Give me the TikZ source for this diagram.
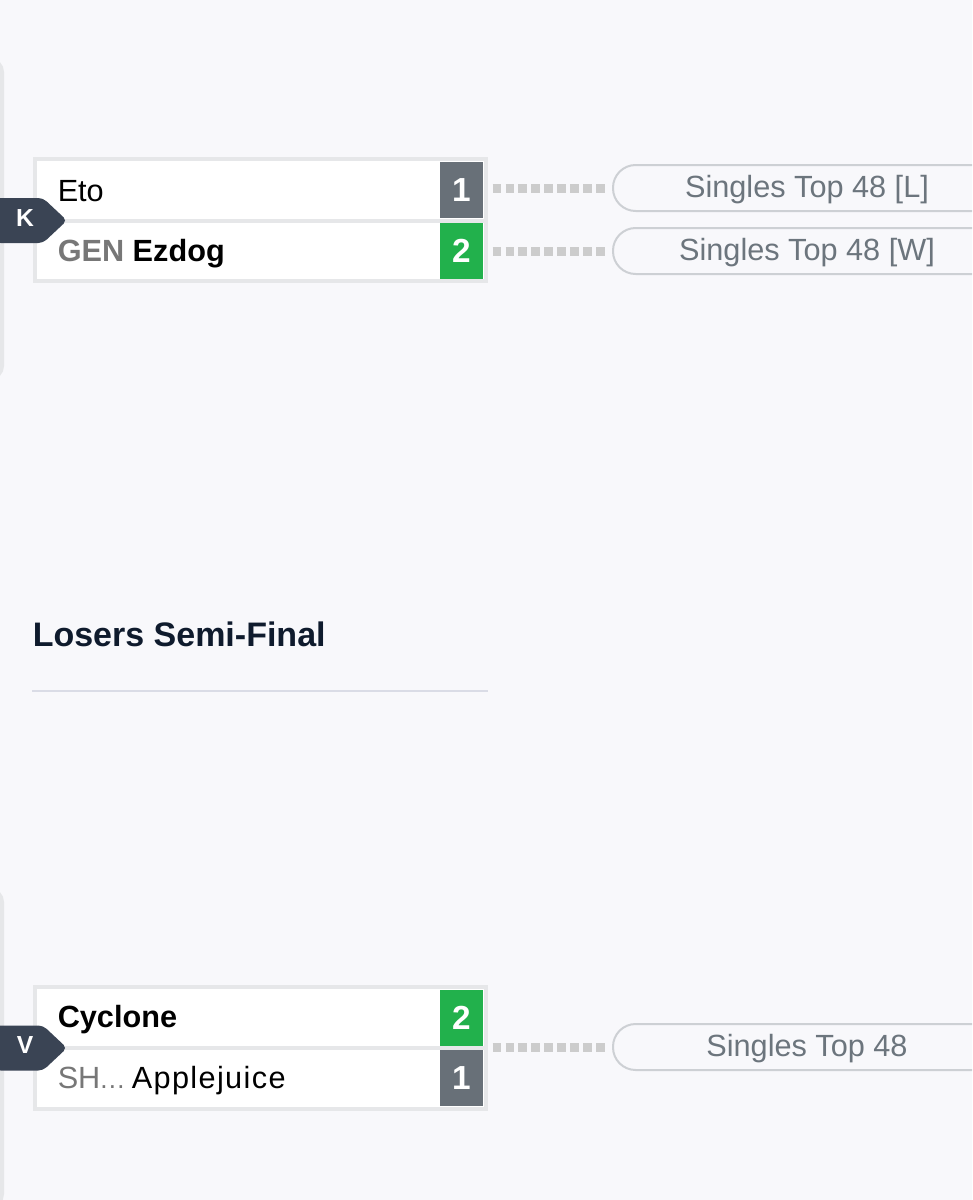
\documentclass[tikz,border=0pt]{standalone}
\usepackage{fontspec}
\setmainfont{Liberation Sans}
\definecolor{pagebg}{HTML}{F8F8FB}
\definecolor{frame}{HTML}{E6E7E9}
\definecolor{win}{HTML}{22B14C}
\definecolor{lose}{HTML}{687078}
\definecolor{badge}{HTML}{3A4454}
\definecolor{dots}{HTML}{CCCCCC}
\definecolor{pillline}{HTML}{CDD0D4}
\definecolor{pilltext}{HTML}{6C757D}
\definecolor{prefix}{HTML}{777777}
\definecolor{title}{HTML}{0F1B2D}
\definecolor{rulec}{HTML}{DADCE6}
\tikzset{
  matchbox/.style={draw=frame,line width=3pt,fill=white,minimum width=338.25pt,minimum height=91.5pt,inner sep=0pt},
  rowline/.style={draw=frame,line width=3pt},
  score/.style={minimum width=32.25pt,minimum height=42pt,inner sep=0pt,text=white,font=\fontsize{25}{25}\selectfont\bfseries},
  scorelight/.style={score},
  player/.style={anchor=base west,inner sep=0pt,font=\fontsize{23}{23}\selectfont,text=black},
  pill/.style={draw=pillline,line width=1.5pt,rounded corners=17pt,minimum width=291pt,minimum height=34.5pt,inner sep=0pt},
  pilllabel/.style={anchor=base,inner sep=0pt,text=pilltext,font=\fontsize{23}{23}\selectfont},
  link/.style={draw=dots,line width=6.75pt,dash pattern=on 6.5pt off 3.2pt,shorten <=7pt,shorten >=5.25pt},
  badgetext/.style={text=white,font=\fontsize{18.5}{18.5}\selectfont\bfseries,inner sep=0pt},
  badgeshape/.style={fill=badge,rounded corners=3.5pt},
  strip/.style={draw=frame,line width=3pt,rounded corners=9pt},
}
\begin{document}
\begin{tikzpicture}[x=0.75pt,y=-0.75pt]
\useasboundingbox (0,0) rectangle (972,1200);
\fill[pagebg] (0,0) rectangle (972,1200);
\begin{scope}
\clip (0,0) rectangle (972,1200);
% side strips
\draw[strip] (-30,60) rectangle (2,378);
\draw[strip] (-30,890) rectangle (2,1206);
% match 1
\node[matchbox] (m1) at (260,220) {};
\draw[rowline] (m1.west |- 0,220.5) -- (m1.east |- 0,220.5);
\node[scorelight,fill=lose] (s1a) at (461.5,190) {};
\node[score,fill=win] (s1b) at (461.5,250.5) {};
\node[anchor=base,scorelight] (n1a) at (461.5,201) {1};
\node[anchor=base,score] (n1b) at (461.5,262) {2};
\node[player] (p1a) at (57.5,201) {Eto};
\node[player] (p1b) at (57.5,261) {\textbf{\textcolor{prefix}{GEN} Ezdog}};
\node[pill] (t1a) at (807,188) {};
\node[pill] (t1b) at (807,251) {};
\node[pilllabel] (l1a) at (807,197) {Singles Top 48 [L]};
\node[pilllabel] (l1b) at (807,260) {Singles Top 48 [W]};
\draw[link] (s1a.east |- t1a.west) -- (t1a.west);
\draw[link] (s1b.east |- t1b.west) -- (t1b.west);
\fill[badgeshape] (-4,198) -- (43,198) -- (67,220.5) -- (43,243) -- (-4,243) -- cycle;
\node[badgetext] (bk) at (25,218.5) {K};
% title
\node[anchor=base west,inner sep=0pt,text=title,font=\fontsize{25.5}{25.5}\selectfont\bfseries] (head) at (32.5,646) {Losers Semi-Final};
\coordinate (r1) at (32,691);
\coordinate (r2) at (488,691);
\draw[rulec,line width=1.5pt] (r1) -- (r2);
% match 2
\node[matchbox] (m2) at (260,1047.5) {};
\draw[rowline] (m2.west |- 0,1048) -- (m2.east |- 0,1048);
\node[score,fill=win] (s2a) at (461.5,1017.5) {};
\node[scorelight,fill=lose] (s2b) at (461.5,1078) {};
\node[anchor=base,score] (n2a) at (461.5,1029) {2};
\node[anchor=base,scorelight] (n2b) at (461.5,1089) {1};
\node[player] (p2a) at (57.5,1027) {\textbf{Cyclone}};
\node[player] (p2b) at (57.5,1088) {\makebox[55.5pt][l]{\textcolor{prefix}{SH\hspace{-1pt}{\fontsize{20}{20}\selectfont …}}}\addfontfeature{LetterSpace=4.5}Applejuice};
\node[pill] (t2) at (807,1047) {};
\node[pilllabel] (l2) at (807,1056) {Singles Top 48};
\draw[link] (s2a.east |- t2.west) -- (t2.west);
\fill[badgeshape] (-4,1025.5) -- (43,1025.5) -- (67,1048) -- (43,1070.5) -- (-4,1070.5) -- cycle;
\node[badgetext] (bv) at (25,1045.5) {V};
\end{scope}
\end{tikzpicture}
\end{document}
